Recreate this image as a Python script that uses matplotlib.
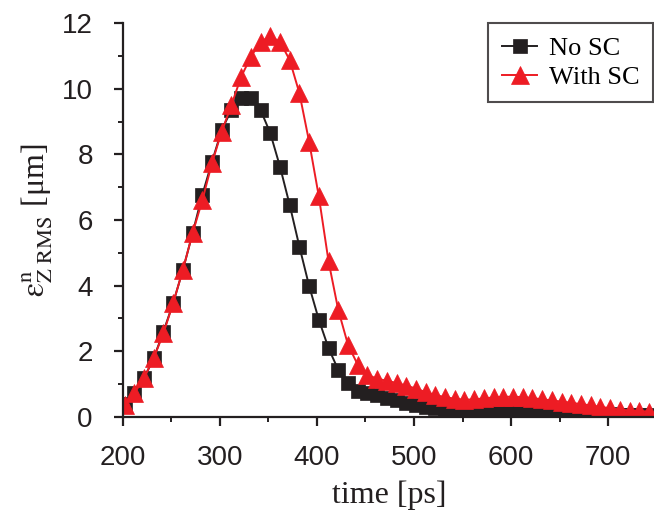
import matplotlib
matplotlib.use("Agg")
import matplotlib.pyplot as plt
from matplotlib.ticker import MultipleLocator

# ---- data ----
time_ps = [202 + 10 * k for k in range(55)]

no_sc = [0.40, 0.72, 1.18, 1.79, 2.60, 3.47, 4.48, 5.60, 6.77, 7.78,
         8.75, 9.36, 9.72, 9.72, 9.36, 8.65, 7.63, 6.46, 5.19, 3.99,
         2.96, 2.09, 1.43, 1.03, 0.80, 0.72, 0.65, 0.57, 0.50, 0.43,
         0.37, 0.31, 0.26, 0.21, 0.18, 0.17, 0.17, 0.19, 0.21, 0.23,
         0.24, 0.24, 0.23, 0.21, 0.19, 0.16, 0.14, 0.12, 0.10, 0.08,
         0.07, 0.06, 0.05, 0.05, 0.05]

with_sc = [0.37, 0.72, 1.18, 1.79, 2.55, 3.47, 4.48, 5.60, 6.60, 7.74,
           8.70, 9.51, 10.37, 10.98, 11.44, 11.60, 11.44, 10.88, 9.87, 8.39,
           6.72, 4.74, 3.26, 2.20, 1.59, 1.28, 1.16, 1.10, 1.03, 0.95,
           0.86, 0.75, 0.66, 0.60, 0.55, 0.52, 0.53, 0.56, 0.59, 0.61,
           0.61, 0.60, 0.57, 0.53, 0.50, 0.46, 0.43, 0.38, 0.35, 0.30,
           0.26, 0.22, 0.19, 0.17, 0.16]

series_labels = ["No SC", "With SC"]
x_ticks = [200, 300, 400, 500, 600, 700]
y_ticks = [0, 2, 4, 6, 8, 10, 12]

BLACK = "#231F20"
RED = "#ED1C24"

plt.rcParams['mathtext.fontset'] = 'stix'
plt.rcParams['mathtext.rm'] = 'Liberation Serif'

fig = plt.figure(figsize=(6.54, 5.19), dpi=100)
ax = fig.add_axes([0.1876, 0.197, 0.8166, 0.758])

ax.plot(time_ps, no_sc, color=BLACK, lw=1.4, marker='s', ms=10,
        mfc=BLACK, mec=BLACK, mew=0.5, label=series_labels[0])
ax.plot(time_ps, with_sc, color=RED, lw=1.4, marker='^', ms=13.5,
        mfc=RED, mec=RED, mew=0.5, label=series_labels[1])

ax.set_xlim(200, 750)
ax.set_ylim(0, 12)
ax.set_xticks(x_ticks)
ax.set_yticks(y_ticks)
ax.xaxis.set_minor_locator(MultipleLocator(50))
ax.yaxis.set_minor_locator(MultipleLocator(1))

for s in ['top', 'right']:
    ax.spines[s].set_visible(False)
for s in ['left', 'bottom']:
    ax.spines[s].set_linewidth(1.6)
    ax.spines[s].set_color(BLACK)

ax.tick_params(which='major', direction='out', length=6.5, width=1.6,
               colors=BLACK, labelsize=20)
ax.tick_params(which='minor', direction='out', length=3.5, width=1.4,
               colors=BLACK)
ax.tick_params(axis='x', which='major', pad=13.5)
ax.tick_params(axis='y', which='major', pad=15)
for lab in ax.get_xticklabels() + ax.get_yticklabels():
    lab.set_fontfamily('Liberation Sans')

ax.set_xlabel('time [ps]', fontsize=23, family='Liberation Serif',
              color=BLACK, labelpad=7)
ax.set_ylabel(r'$\mathrm{ε}^{\mathrm{n}}_{\mathrm{Z\ RMS}}$ [μm]',
              fontsize=23, family='Liberation Serif', color=BLACK, labelpad=5)

leg = ax.legend(loc='upper right', bbox_to_anchor=(0.993, 1.0),
                borderaxespad=0.0, frameon=True, fancybox=False,
                prop={'family': 'Liberation Serif', 'size': 19},
                handlelength=1.35, handletextpad=0.45, borderpad=0.5,
                labelspacing=0.2, markerscale=0.95)
leg.get_frame().set_edgecolor(BLACK)
leg.get_frame().set_linewidth(1.5)

fig.savefig('out.png', dpi=100)
